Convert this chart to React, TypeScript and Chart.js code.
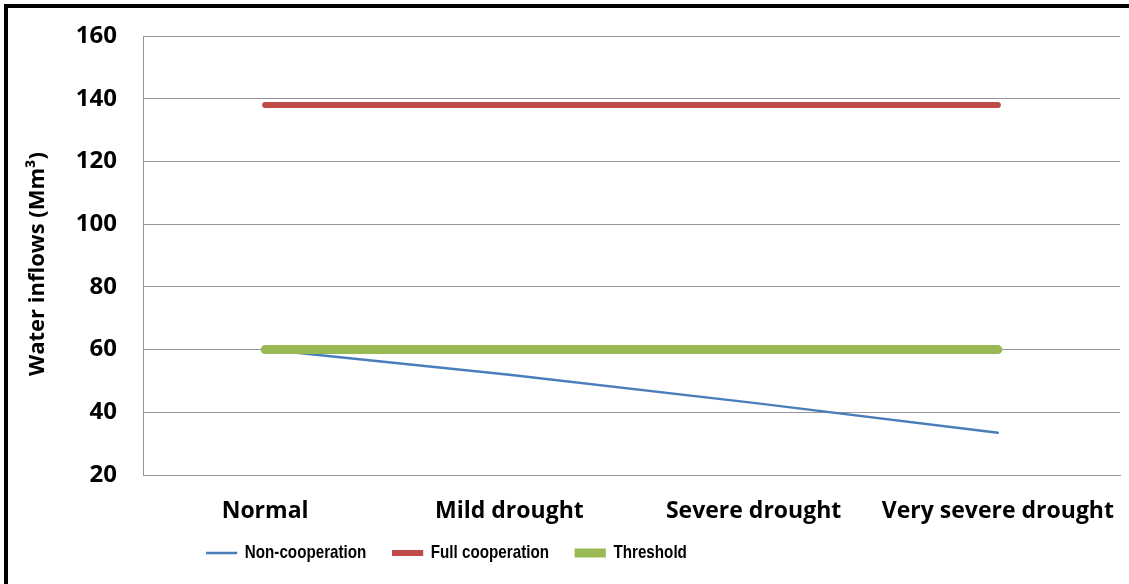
import React, { useEffect, useRef } from "react";
import { Chart, registerables } from "chart.js";

Chart.register(...registerables);

const categories = ["Normal", "Mild drought", "Severe drought", "Very severe drought"];
const nonCooperation = [60, 52, 43, 33.5];
const fullCooperation = [138, 138, 138, 138];
const threshold = [60, 60, 60, 60];

const yMin = 20;
const yMax = 160;
const yStep = 20;

const tickFont = { family: "'Open Sans', Lato, sans-serif", size: 23, weight: "bold" as const };
const legendFont = { family: "'Liberation Sans', Arial, sans-serif", size: 19, weight: "bold" as const };

// Narrow legend lettering: the legend row is drawn horizontally squeezed.
const LEGEND_SQUEEZE = 0.8;
const LEGEND_X = 206;
const LEGEND_MID_Y = 553;

const legendPlacement = {
  id: "legendPlacement",
  afterLayout(chart: any) {
    const legend = chart.legend;
    if (!legend) return;
    const pad = legend.options.labels.padding;
    legend.left = LEGEND_X - pad;
    legend.top = LEGEND_MID_Y - legend.options.labels.font.size / 2 - pad;
    if (!legend.__squeezed) {
      const baseDraw = legend.draw.bind(legend);
      legend.draw = (area: any) => {
        const ctx = chart.ctx;
        ctx.save();
        ctx.translate(LEGEND_X, 0);
        ctx.scale(LEGEND_SQUEEZE, 1);
        ctx.translate(-LEGEND_X, 0);
        baseDraw(area);
        ctx.restore();
      };
      legend.__squeezed = true;
    }
  },
};

export default function App() {
  const canvasRef = useRef<HTMLCanvasElement | null>(null);

  useEffect(() => {
    const canvas = canvasRef.current;
    if (!canvas) return;
    const chart = new Chart(canvas, {
      type: "line",
      data: {
        labels: categories,
        datasets: [
          {
            label: "Non-cooperation",
            data: nonCooperation,
            borderColor: "#4a7ebb",
            backgroundColor: "#4a7ebb",
            borderWidth: 2.5,
            pointRadius: 0,
            borderCapStyle: "round",
            order: 2,
          },
          {
            label: "Full cooperation",
            data: fullCooperation,
            borderColor: "#be4b48",
            backgroundColor: "#be4b48",
            borderWidth: 6,
            pointRadius: 0,
            borderCapStyle: "round",
            order: 1,
          },
          {
            label: "Threshold",
            data: threshold,
            borderColor: "#98b954",
            backgroundColor: "#98b954",
            borderWidth: 9,
            pointRadius: 0,
            borderCapStyle: "round",
            order: 0,
          },
        ],
      },
      plugins: [legendPlacement],
      options: {
        animation: false,
        responsive: false,
        events: [],
        layout: { padding: { top: 36, right: 9, bottom: 0, left: 0 } },
        plugins: {
          tooltip: { enabled: false },
          legend: {
            position: "bottom",
            align: "start",
            maxHeight: 55,
            labels: {
              font: legendFont,
              color: "#000",
              boxWidth: 39,
              boxHeight: 0,
              padding: 32,
              sort: (a, b) => (a.datasetIndex ?? 0) - (b.datasetIndex ?? 0),
            },
          },
        },
        scales: {
          x: {
            offset: true,
            grid: { display: false, drawTicks: false },
            border: { display: true, color: "#969696", width: 1 },
            ticks: { font: tickFont, color: "#000", padding: 23, maxRotation: 0, autoSkip: false },
            afterFit: (scale: any) => {
              scale.height = 54;
              scale.paddingLeft = 0;
              scale.paddingRight = 0;
            },
          },
          y: {
            min: yMin,
            max: yMax,
            grid: { color: "#969696", lineWidth: 1, drawTicks: false },
            border: { display: true, color: "#969696", width: 1 },
            ticks: { stepSize: yStep, font: { ...tickFont, size: 24 }, color: "#000", padding: 26 },
            title: {
              display: true,
              text: "Water inflows (Mm³)   ",
              font: { family: "'Open Sans', Lato, sans-serif", size: 22, weight: "bold" },
              color: "#000",
              padding: { top: 25, bottom: 0 },
            },
            afterFit: (scale: any) => {
              scale.width = 143;
              scale.paddingTop = 0;
              scale.paddingBottom = 0;
            },
          },
        },
      },
    });
    return () => chart.destroy();
  }, []);

  return (
    <div style={{ position: "fixed", left: 0, top: 0, width: 1129, height: 584, background: "#fff", overflow: "hidden" }}>
      <canvas ref={canvasRef} width={1129} height={584} style={{ position: "absolute", left: 0, top: 0 }} />
      <div
        style={{
          position: "absolute",
          left: 4,
          top: 4,
          width: 1200,
          height: 700,
          borderTop: "4px solid #000",
          borderLeft: "4px solid #000",
          pointerEvents: "none",
        }}
      />
    </div>
  );
}
